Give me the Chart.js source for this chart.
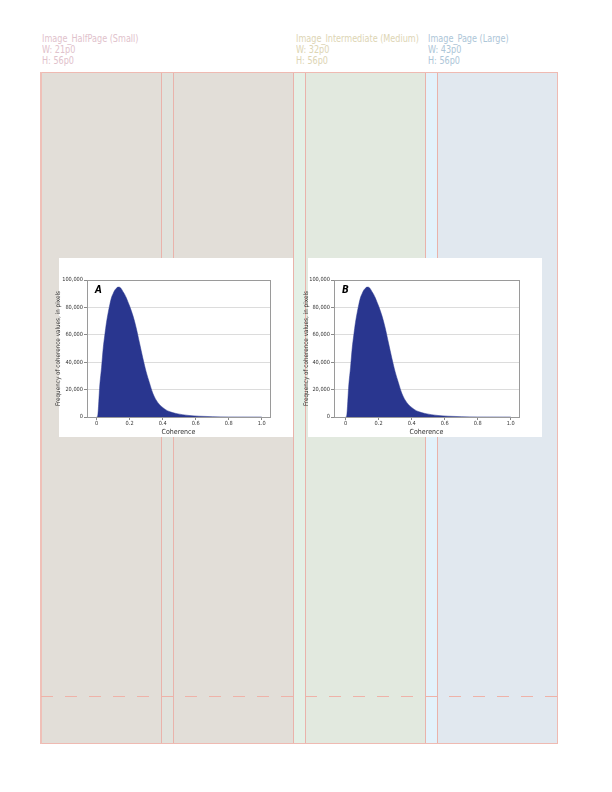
<!DOCTYPE html>
<html>
<head>
<meta charset="utf-8">
<script src="https://cdn.jsdelivr.net/npm/chart.js@4.4.1/dist/chart.umd.min.js"></script>
<style>
  html, body { margin:0; padding:0; background:#ffffff; }
  body { width:612px; height:792px; position:relative; overflow:hidden;
         font-family:"DejaVu Sans Condensed","Liberation Sans Narrow","Liberation Sans",sans-serif; }
  .abs { position:absolute; }
  .hdr { position:absolute; font-size:10px; line-height:11px; white-space:nowrap;
         transform:scaleX(0.9); transform-origin:0 0; }
  .vline { position:absolute; top:72px; height:672px; width:1px; background:#e9b3ab; }
  .box { position:absolute; background:#ffffff; }
  canvas { position:absolute; }
</style>
</head>
<body>
<script>
// ---------------- data ----------------
const COHERENCE = [0.00, 0.005, 0.02, 0.03, 0.04, 0.05, 0.06, 0.07, 0.08, 0.09, 0.10, 0.11, 0.12, 0.13, 0.14, 0.15, 0.16, 0.17, 0.18, 0.19, 0.20, 0.22, 0.24, 0.26, 0.28, 0.30, 0.32, 0.34, 0.36, 0.38, 0.40, 0.42, 0.44, 0.48, 0.52, 0.56, 0.62, 0.70, 0.80, 1.00];
const FREQ_A = [0, 0, 24000, 36000, 50000, 60000, 69000, 76000, 82000, 87000, 90000, 92500, 94000, 94800, 94700, 93500, 91500, 89500, 87000, 84000, 81000, 74000, 65000, 54000, 43000, 33000, 25000, 17500, 12500, 9200, 7000, 5200, 4000, 2600, 1700, 1100, 600, 250, 50, 0];
const FREQ_B = [0, 0, 24000, 36000, 50000, 60000, 69000, 76000, 82000, 87000, 90000, 92500, 94000, 94800, 94700, 93500, 91500, 89500, 87000, 84000, 81000, 74000, 65000, 54000, 43000, 33000, 25000, 17500, 12500, 9200, 7000, 5200, 4000, 2600, 1700, 1100, 600, 250, 50, 0];
const X_TICKS = [0, 0.2, 0.4, 0.6, 0.8, 1.0];
const X_TICK_LABELS = ["0", "0.2", "0.4", "0.6", "0.8", "1.0"];
const Y_TICKS = [0, 20000, 40000, 60000, 80000, 100000];
const Y_TICK_LABELS = ["0", "20,000", "40,000", "60,000", "80,000", "100,000"];
const PANEL_LABELS = ["A", "B"];
const X_TITLE = "Coherence";
const Y_TITLE = "Frequency of coherence values, in pixels";
const HEADERS = [
  ["Image_HalfPage (Small)", "W: 21p0", "H: 56p0"],
  ["Image_Intermediate (Medium)", "W: 32p0", "H: 56p0"],
  ["Image_Page (Large)", "W: 43p0", "H: 56p0"]
];
</script>

<!-- columns -->
<div class="abs" style="left:41px; top:72px; width:120px; height:672px; background:#e2ded8;"></div>
<div class="abs" style="left:161px; top:72px; width:12px; height:672px; background:#e1e2dc;"></div>
<div class="abs" style="left:173px; top:72px; width:120px; height:672px; background:#e2ded8;"></div>
<div class="abs" style="left:293px; top:72px; width:12px; height:672px; background:#e4f0e6;"></div>
<div class="abs" style="left:305px; top:72px; width:120px; height:672px; background:#e2e9df;"></div>
<div class="abs" style="left:425px; top:72px; width:12px; height:672px; background:#e3f2fb;"></div>
<div class="abs" style="left:437px; top:72px; width:120px; height:672px; background:#e1e8ef;"></div>

<div class="vline" style="left:161px;"></div>
<div class="vline" style="left:173px;"></div>
<div class="vline" style="left:293px;"></div>
<div class="vline" style="left:305px;"></div>
<div class="vline" style="left:425px;"></div>
<div class="vline" style="left:437px;"></div>

<!-- outer frame -->
<div class="abs" style="left:41px; top:72px; width:517px; height:1px; background:#efbab2;"></div>
<div class="abs" style="left:41px; top:743px; width:517px; height:1px; background:#efbab2;"></div>
<div class="abs" style="left:40px; top:72px; width:2px; height:672px; background:#efc0b8;"></div>
<div class="abs" style="left:557px; top:72px; width:1px; height:672px; background:#efbab2;"></div>

<!-- dashed guide -->
<div class="abs" style="left:41px; top:696px; width:516px; height:1px;
  background:repeating-linear-gradient(to right,#efb2a8 0px,#efb2a8 12px,transparent 12px,transparent 24px);"></div>

<!-- header texts -->
<div class="hdr" id="h0" style="left:42px; top:33px; color:#dfc2cc;"></div>
<div class="hdr" id="h1" style="left:296px; top:33px; color:#ddd5b4;"></div>
<div class="hdr" id="h2" style="left:428px; top:33px; color:#adc6d8;"></div>

<!-- white panels -->
<div class="box" style="left:59px; top:258px; width:234px; height:179px;"></div>
<div class="box" style="left:308px; top:258px; width:234px; height:179px;"></div>

<canvas id="cA" width="250" height="192" style="left:50px; top:250px;"></canvas>
<canvas id="cB" width="250" height="192" style="left:298px; top:250px;"></canvas>

<script>
HEADERS.forEach((lines, i) => {
  document.getElementById('h' + i).innerHTML = lines.join('<br>');
});

const FONT = '"DejaVu Sans Condensed","Liberation Sans Narrow","Liberation Sans",sans-serif';
const FILL = '#29368f';

const framePlugin = {
  id: 'frame',
  afterDatasetsDraw(chart) {
    const a = chart.chartArea;
    const ctx = chart.ctx;
    ctx.save();
    ctx.strokeStyle = '#9a9a9a';
    ctx.lineWidth = 1;
    ctx.strokeRect(Math.round(a.left) + 0.5, Math.round(a.top) + 0.5,
                   Math.round(a.right - a.left), Math.round(a.bottom - a.top));
    const lbl = chart.options.plugins.frame.label;
    ctx.fillStyle = '#000000';
    ctx.font = 'italic bold 10px ' + FONT;
    ctx.textBaseline = 'middle';
    ctx.textAlign = 'left';
    ctx.fillText(lbl, a.left + 8, a.top + 10);
    ctx.restore();
  }
};

function makeChart(id, values, label, yWidth, xMin, padRight) {
  const pts = COHERENCE.map((x, i) => ({ x: x, y: values[i] }));
  return new Chart(document.getElementById(id), {
    type: 'line',
    data: {
      datasets: [{
        data: pts,
        backgroundColor: FILL,
        borderColor: FILL,
        borderWidth: 0.5,
        fill: 'origin',
        pointRadius: 0,
        cubicInterpolationMode: 'monotone'
      }]
    },
    options: {
      responsive: false,
      animation: false,
      devicePixelRatio: 1,
      layout: { padding: { top: 30, right: padRight, left: 0, bottom: 0 } },
      plugins: {
        legend: { display: false },
        tooltip: { enabled: false },
        frame: { label: label }
      },
      scales: {
        x: {
          type: 'linear',
          min: xMin,
          max: 1.05,
          afterBuildTicks: (s) => { s.ticks = X_TICKS.map(v => ({ value: v })); },
          afterFit: (s) => { s.height = 25; },
          border: { display: false },
          grid: { drawOnChartArea: false, drawTicks: true, tickLength: 3, tickColor: '#8a8a8a', lineWidth: 1 },
          ticks: {
            padding: 0,
            color: '#333333',
            font: { family: FONT, size: 5.6 },
            maxRotation: 0,
            autoSkip: false,
            callback: (v) => { const k = X_TICKS.indexOf(v); return k >= 0 ? X_TICK_LABELS[k] : ''; }
          },
          title: {
            display: true,
            text: X_TITLE,
            color: '#333333',
            font: { family: FONT, size: 7 },
            padding: { top: 0, bottom: 5.5 }
          }
        },
        y: {
          min: 0,
          max: 100000,
          afterBuildTicks: (s) => { s.ticks = Y_TICKS.map(v => ({ value: v })); },
          afterFit: (s) => { s.width = yWidth; },
          border: { display: false },
          grid: { color: '#dcdcdc', lineWidth: 1, drawTicks: true, tickLength: 3, tickColor: '#8a8a8a' },
          ticks: {
            padding: 1,
            color: '#333333',
            font: { family: FONT, size: 5.6 },
            autoSkip: false,
            callback: (v) => { const k = Y_TICKS.indexOf(v); return k >= 0 ? Y_TICK_LABELS[k] : ''; }
          },
          title: {
            display: true,
            text: Y_TITLE,
            color: '#333333',
            font: { family: FONT, size: 6.3 },
            padding: { top: 5, bottom: 0 }
          }
        }
      }
    },
    plugins: [framePlugin]
  });
}

makeChart('cA', FREQ_A, PANEL_LABELS[0], 37, -0.058, 30);
makeChart('cB', FREQ_B, PANEL_LABELS[1], 36, -0.07, 29);
</script>
</body>
</html>
